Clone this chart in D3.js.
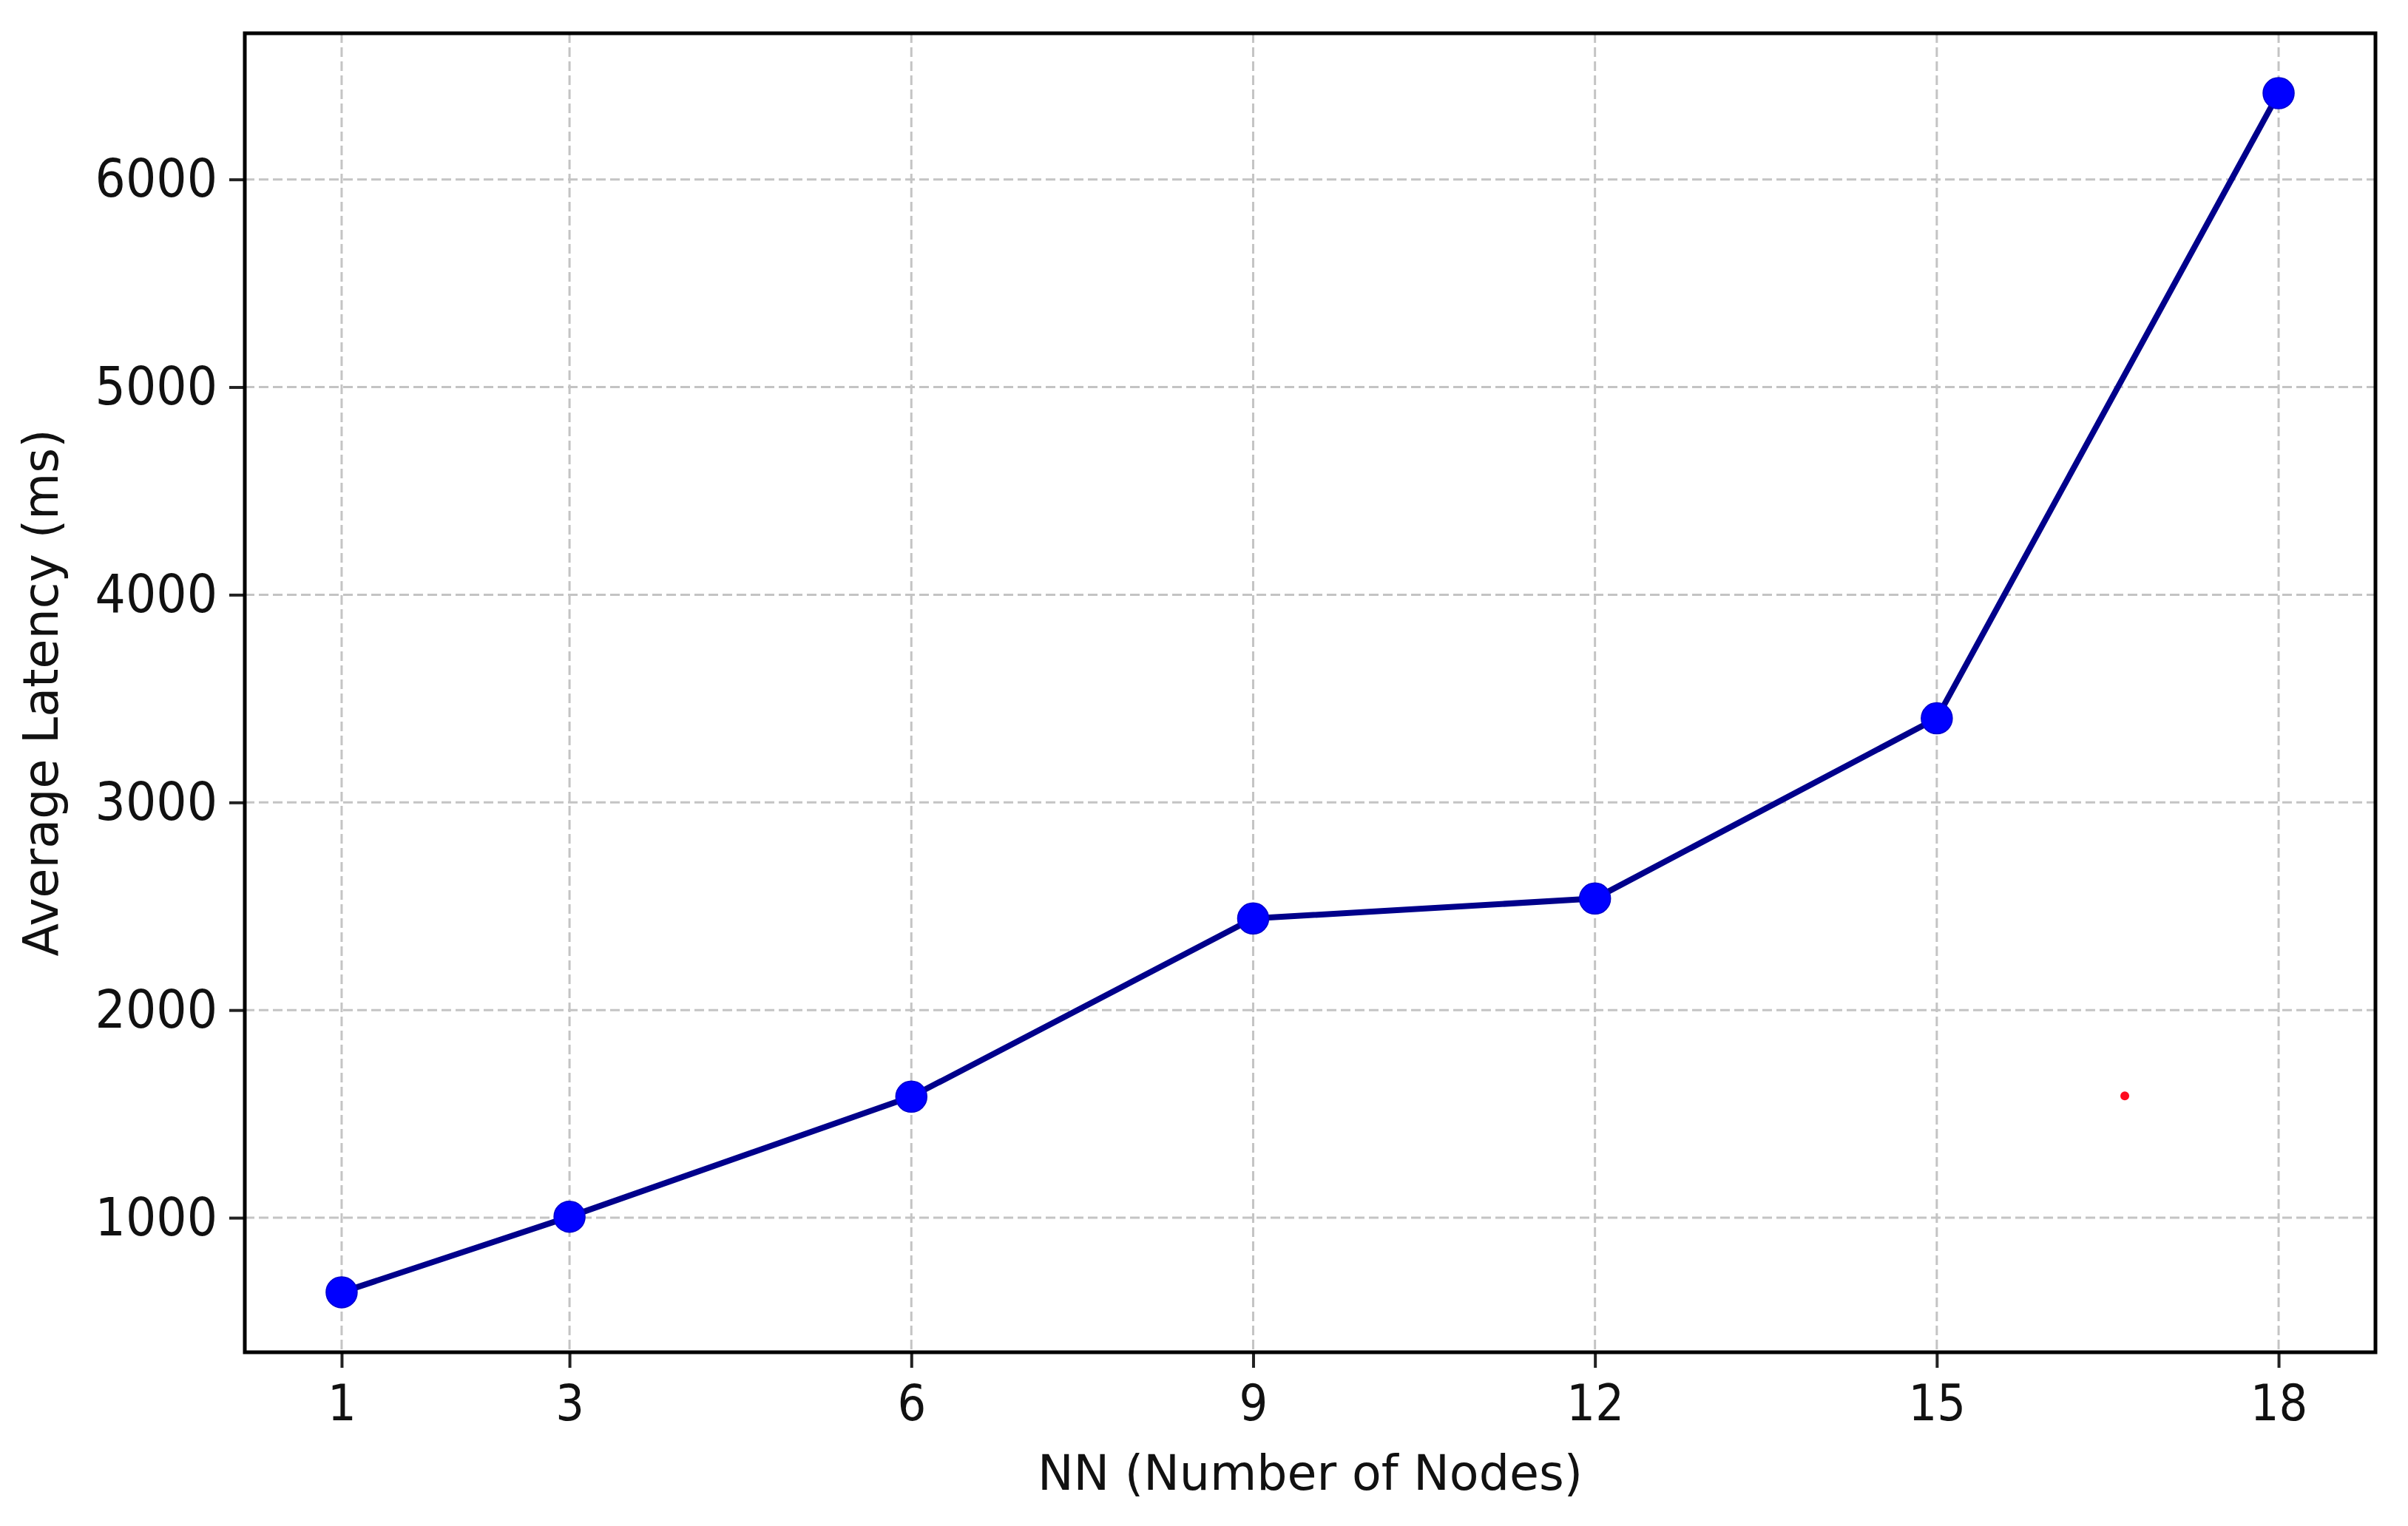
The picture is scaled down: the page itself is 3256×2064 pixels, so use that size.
<!DOCTYPE html>
<html>
<head>
<meta charset="utf-8">
<script src="https://cdn.jsdelivr.net/npm/d3@7"></script>
<style>
  html, body { margin: 0; padding: 0; background: #ffffff; }
  svg { display: block; }
  .tick text { font-family: "DejaVu Sans", sans-serif; fill: #111; transform-box: fill-box; transform-origin: center; transform: scaleY(1.1); }
  .title { font-family: "DejaVu Sans", sans-serif; fill: #111; }
</style>
</head>
<body>
<script>
// ---- data ----
const nodes = [1, 3, 6, 9, 12, 15, 18];
const latency = [641, 1005, 1583, 2441, 2537, 3405, 6415];
const xTicks = [1, 3, 6, 9, 12, 15, 18];
const yTicks = [1000, 2000, 3000, 4000, 5000, 6000];
const xTitle = "NN (Number of Nodes)";
const yTitle = "Average Latency (ms)";
const strayDot = [{x: 16.65, y: 1587}];

// ---- layout ----
const W = 3256, H = 2064;
const pLeft = 331, pRight = 3212, pTop = 45, pBottom = 1829;

const svg = d3.select("body").append("svg").attr("width", W).attr("height", H);

const xMin = d3.min(nodes), xMax = d3.max(nodes);
const xPad = (xMax - xMin) * 0.05;
const x = d3.scaleLinear().domain([xMin - xPad, xMax + xPad]).range([pLeft, pRight]);

const yMin = d3.min(latency), yMax = d3.max(latency);
const yPad = (yMax - yMin) * 0.05;
const y = d3.scaleLinear().domain([yMin - yPad, yMax + yPad]).range([pBottom, pTop]);

// grid
const grid = svg.append("g");
grid.selectAll("line.v").data(xTicks).join("line").attr("class", "v")
  .attr("x1", d => x(d)).attr("x2", d => x(d))
  .attr("y1", pTop).attr("y2", pBottom)
  .attr("stroke", "#c4c4c4").attr("stroke-width", 3).attr("stroke-dasharray", "13,6");
grid.selectAll("line.h").data(yTicks).join("line").attr("class", "h")
  .attr("y1", d => y(d)).attr("y2", d => y(d))
  .attr("x1", pLeft).attr("x2", pRight)
  .attr("stroke", "#c4c4c4").attr("stroke-width", 3).attr("stroke-dasharray", "13,6");

// axes
const xAxis = svg.append("g").attr("transform", `translate(0,${pBottom})`)
  .call(d3.axisBottom(x).tickValues(xTicks).tickFormat(d3.format("d")).tickSize(21).tickPadding(26).tickSizeOuter(0));
const yAxis = svg.append("g").attr("transform", `translate(${pLeft},0)`)
  .call(d3.axisLeft(y).tickValues(yTicks).tickFormat(d3.format("d")).tickSize(21).tickPadding(16).tickSizeOuter(0));
[xAxis, yAxis].forEach(a => {
  a.select(".domain").remove();
  a.selectAll(".tick line").attr("stroke", "#222").attr("stroke-width", 4);
});
xAxis.selectAll(".tick text").attr("font-size", 61);
yAxis.selectAll(".tick text").attr("font-size", 65);

// frame
svg.append("rect").attr("x", pLeft).attr("y", pTop)
  .attr("width", pRight - pLeft).attr("height", pBottom - pTop)
  .attr("fill", "none").attr("stroke", "#000").attr("stroke-width", 5);

// line
const pts = nodes.map((n, i) => ({x: n, y: latency[i]}));
svg.append("path").datum(pts)
  .attr("d", d3.line().x(d => x(d.x)).y(d => y(d.y)))
  .attr("fill", "none").attr("stroke", "#00008b").attr("stroke-width", 8)
  .attr("stroke-linejoin", "round");

svg.append("g").selectAll("circle").data(pts).join("circle")
  .attr("cx", d => x(d.x)).attr("cy", d => y(d.y)).attr("r", 21)
  .attr("fill", "#0000ff").attr("stroke", "#0000cc").attr("stroke-width", 1.5);

// stray red dot present in the reference image
svg.append("g").selectAll("circle").data(strayDot).join("circle")
  .attr("cx", d => x(d.x)).attr("cy", d => y(d.y)).attr("r", 6)
  .attr("fill", "#ff0a1e");

// titles
svg.append("text").attr("class", "title")
  .attr("x", (pLeft + pRight) / 2).attr("y", 2015)
  .attr("text-anchor", "middle").attr("font-size", 65)
  .text(xTitle);

svg.append("text").attr("class", "title")
  .attr("transform", `translate(78,${(pTop + pBottom) / 2}) rotate(-90)`)
  .attr("text-anchor", "middle").attr("font-size", 65)
  .text(yTitle);
</script>
</body>
</html>
